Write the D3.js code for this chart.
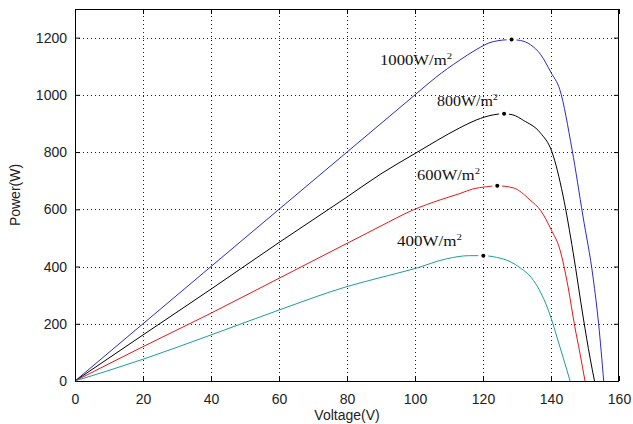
<!DOCTYPE html>
<html>
<head>
<meta charset="utf-8">
<script src="https://cdn.jsdelivr.net/npm/d3@7"></script>
<style>
  body { margin: 0; background: #fff; }
  svg { display: block; }
  .tick text { font-family: "Liberation Sans", Arial, sans-serif; font-size: 14px; fill: #222; }
  .lbl { font-family: "Liberation Sans", Arial, sans-serif; font-size: 14px; fill: #222; }
  .ann { font-family: "Liberation Serif", "Times New Roman", serif; font-size: 14px; fill: #111; }
</style>
</head>
<body>
<svg id="chart" width="633" height="424"></svg>
<script>
// irradiance curves
const irr1000V = [0, 20, 40, 60, 80, 100, 106, 113, 118, 123, 128.4, 131, 134, 137, 140, 142.6, 146.2, 149.4, 152.4, 154, 155.5];
const irr1000P = [0, 200, 400, 600, 800, 1000, 1060, 1120, 1158, 1186, 1193, 1190, 1175, 1140, 1078, 1018, 808, 576, 360, 200, 0];

const irr800V = [0, 20, 40, 60, 80, 90, 100, 106.4, 113.2, 118, 123, 126.2, 128.8, 132, 136.8, 140.3, 143.5, 146.5, 149.5, 151.5, 152.8];
const irr800P = [0, 161, 321, 484, 643, 724, 795, 840, 885, 912, 930, 934, 930, 910, 868, 800, 650, 450, 220, 80, 0];

const irr600V = [0, 20, 40, 60, 80, 89.7, 99.5, 107.4, 113.2, 117, 121, 124.2, 128.9, 133.8, 137, 140, 142.6, 145, 147, 148.5, 150];
const irr600P = [0, 120, 237, 359, 481, 540, 598, 633, 655, 671, 679, 682, 675, 633, 595, 530, 460, 330, 190, 98, 0];

const irr400V = [0, 20, 40, 60, 80, 90, 100, 109.3, 116, 120.1, 124, 128, 131, 134.3, 136.5, 139.2, 142.6, 144.5, 145.6];
const irr400P = [0, 76, 161, 248, 330, 362, 393, 427, 438, 438, 432, 417, 395, 360, 320, 248, 120, 45, 0];

// maximum power points
const mppV = [128.4, 126.2, 124.2, 120.1];
const mppP = [1193, 934, 682, 438];

const seriesNames = ["1000W/m", "800W/m", "600W/m", "400W/m"];
const seriesColors = ["#2b2bc4", "#000000", "#e01818", "#1f9c9c"];

const xTicks = [0, 20, 40, 60, 80, 100, 120, 140, 160];
const yTicks = [0, 200, 400, 600, 800, 1000, 1200];

const svg = d3.select("#chart");
const W = 633, H = 424;
const margin = {left: 75, right: 14, top: 9, bottom: 43};

const x = d3.scaleLinear().domain([0, 160]).range([margin.left, W - margin.right]);
const y = d3.scaleLinear().domain([0, 1300]).range([H - margin.bottom, margin.top]);

svg.append("rect").attr("width", W).attr("height", H).attr("fill", "#fff");

// dotted grid
const grid = svg.append("g").attr("stroke", "#222").attr("stroke-width", 1)
    .attr("stroke-dasharray", "1,3");
xTicks.slice(1, -1).forEach(function(t) {
    grid.append("line")
        .attr("x1", Math.round(x(t)) + 0.5).attr("x2", Math.round(x(t)) + 0.5)
        .attr("y1", y(0)).attr("y2", y(1300));
});
yTicks.slice(1).forEach(function(t) {
    grid.append("line")
        .attr("x1", x(0)).attr("x2", x(160))
        .attr("y1", Math.round(y(t)) + 0.5).attr("y2", Math.round(y(t)) + 0.5);
});

// curves
const series = [
    [irr1000V, irr1000P],
    [irr800V, irr800P],
    [irr600V, irr600P],
    [irr400V, irr400P]
];
const line = d3.line()
    .x(function(d) { return x(d[0]); })
    .y(function(d) { return y(d[1]); })
    .curve(d3.curveMonotoneX);

series.forEach(function(s, i) {
    const pts = s[0].map(function(v, k) { return [v, s[1][k]]; });
    svg.append("path")
        .attr("d", line(pts))
        .attr("fill", "none")
        .attr("stroke", seriesColors[i])
        .attr("stroke-width", 1);
});

// peak markers, with a small white gap in the curve around them
mppV.forEach(function(v, i) {
    svg.append("circle")
        .attr("cx", x(v)).attr("cy", y(mppP[i]))
        .attr("r", 5).attr("fill", "#fff");
    svg.append("circle")
        .attr("cx", x(v)).attr("cy", y(mppP[i]))
        .attr("r", 2).attr("fill", "#000");
});

// axes, inward ticks on all sides (box)
const fmt = d3.format("d");
const xb = svg.append("g").attr("transform", "translate(0," + y(0) + ")")
    .call(d3.axisBottom(x).tickValues(xTicks).tickFormat(fmt).tickSizeInner(-5).tickSizeOuter(0).tickPadding(10));
const xt = svg.append("g").attr("transform", "translate(0," + y(1300) + ")")
    .call(d3.axisTop(x).tickValues(xTicks).tickSizeInner(-5).tickSizeOuter(0).tickFormat(""));
const yl = svg.append("g").attr("transform", "translate(" + x(0) + ",0)")
    .call(d3.axisLeft(y).tickValues(yTicks).tickFormat(fmt).tickSizeInner(-5).tickSizeOuter(0).tickPadding(8));
const yr = svg.append("g").attr("transform", "translate(" + x(160) + ",0)")
    .call(d3.axisRight(y).tickValues(yTicks).tickSizeInner(-5).tickSizeOuter(0).tickFormat(""));
[xb, xt, yl, yr].forEach(function(g) {
    g.select(".domain").remove();
    g.selectAll(".tick line").attr("stroke", "#000");
});
xb.selectAll(".tick text").attr("dy", "0.9em");

svg.append("rect")
    .attr("x", x(0) + 0.5).attr("y", y(1300) + 0.5)
    .attr("width", x(160) - x(0) - 1).attr("height", y(0) - y(1300))
    .attr("fill", "none").attr("stroke", "#000").attr("stroke-width", 1);

// axis labels
svg.append("text").attr("class", "lbl")
    .attr("x", (x(0) + x(160)) / 2).attr("y", 420)
    .attr("text-anchor", "middle").text("Voltage(V)");
svg.append("text").attr("class", "lbl")
    .attr("transform", "translate(20," + (y(0) + y(1300)) / 2 + ") rotate(-90)")
    .attr("text-anchor", "middle").text("Power(W)");

// curve annotations
const annX = [380, 437, 417, 397];
const annY = [65, 106, 180, 246];
const annW = [72, 61, 63, 65];
seriesNames.forEach(function(n, i) {
    const t = svg.append("text").attr("class", "ann")
        .attr("x", annX[i]).attr("y", annY[i])
        .attr("textLength", annW[i]).attr("lengthAdjust", "spacingAndGlyphs");
    t.append("tspan").text(n);
    t.append("tspan").attr("font-size", "9px").attr("dy", "-6").text("2");
});
</script>
</body>
</html>
